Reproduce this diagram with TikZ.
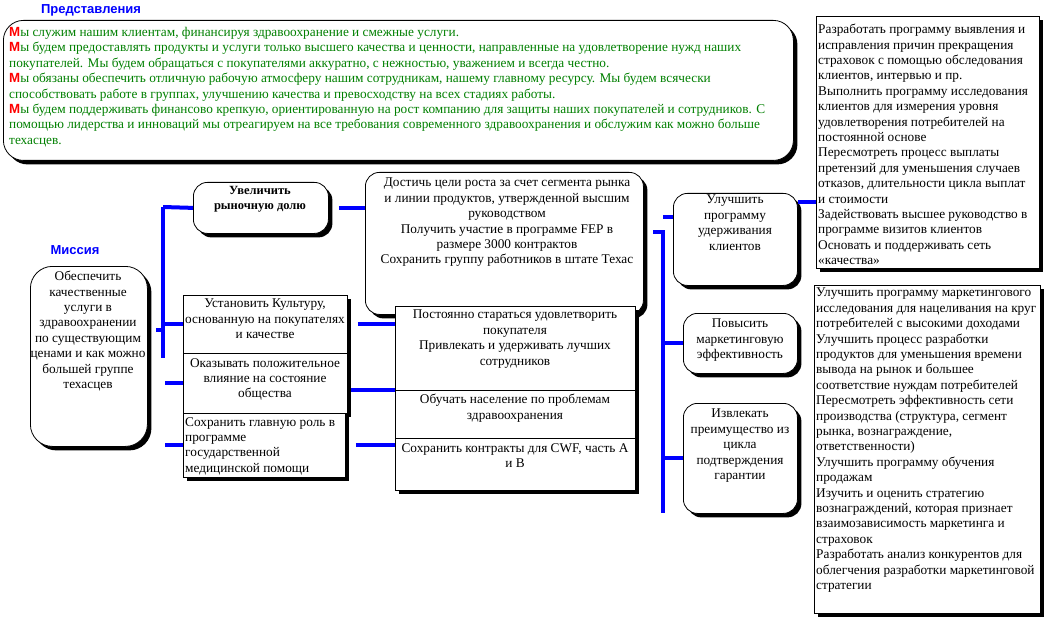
\documentclass[tikz,border=0pt]{standalone}
\usepackage{fontspec}
\setmainfont{Liberation Serif}
\setsansfont{Liberation Sans}
\usetikzlibrary{shadows}
\definecolor{mygreen}{RGB}{0,128,0}
\newcommand\capM{{\sffamily\bfseries\color{red}М}}

\begin{document}
\begin{tikzpicture}[x=1pt,y=-1pt,
  boxshadow/.style={drop shadow={shadow xshift=4pt,shadow yshift=-4pt,opacity=1,fill=black}},
  rbox/.style={draw,fill=white,line width=0.8pt,rounded corners=14pt,boxshadow,anchor=north west,inner sep=0pt},
  sbox/.style={draw,fill=white,line width=0.8pt,boxshadow,anchor=north west,inner sep=0pt},
  txt/.style={font=\fontsize{13.3}{15.4}\selectfont,align=center,inner sep=0pt,anchor=north},
  ltxt/.style={txt,align=left,anchor=north west},
  head/.style={font=\sffamily\bfseries\fontsize{13}{15}\selectfont,text=blue,inner sep=0pt},
  link/.style={blue,line width=4pt}]
\useasboundingbox (0,0) rectangle (1048,620);

% headings
\node[head] (hview) at (91,10) {Представления};
\node[head] (hmis) at (75,250) {Миссия};

% top box
\node[rbox,rounded corners=20pt,minimum width=790pt,minimum height=140pt] (topb) at (3,20) {};
\node[ltxt,text=mygreen] (topb-t) at (9,27) {\capM ы служим нашим клиентам, финансируя здравоохранение и смежные услуги.\\
\capM ы будем предоставлять продукты и услуги только высшего качества и ценности, направленные на удовлетворение нужд наших\\
покупателей. Мы будем обращаться с покупателями аккуратно, с нежностью, уважением и всегда честно.\\
\capM ы обязаны обеспечить отличную рабочую атмосферу нашим сотрудникам, нашему главному ресурсу. Мы будем всячески\\
способствовать работе в группах, улучшению качества и превосходству на всех стадиях работы.\\
\capM ы будем поддерживать финансово крепкую, ориентированную на рост компанию для защиты наших покупателей и сотрудников. С\\
помощью лидерства и инноваций мы отреагируем на все требования современного здравоохранения и обслужим как можно больше\\
техасцев.};

% right lists
\node[sbox,minimum width=223pt,minimum height=252pt] (rone) at (816,16) {};
\node[ltxt] (rone-t) at (818,24) {Разработать программу выявления и\\
исправления причин прекращения\\
страховок с помощью обследования\\
клиентов, интервью и пр.\\
Выполнить программу исследования\\
клиентов для измерения уровня\\
удовлетворения потребителей на\\
постоянной основе\\
Пересмотреть процесс выплаты\\
претензий для уменьшения случаев\\
отказов, длительности цикла выплат\\
и стоимости\\
Задействовать высшее руководство в\\
программе визитов клиентов\\
Основать и поддерживать сеть\\
«качества»};

\node[sbox,minimum width=226pt,minimum height=328pt] (rtwo) at (814,285) {};
\node[ltxt] (rtwo-t) at (816,288) {Улучшить программу маркетингового\\
исследования для нацеливания на круг\\
потребителей с высокими доходами\\
Улучшить процесс разработки\\
продуктов для уменьшения времени\\
вывода на рынок и большее\\
соответствие нуждам потребителей\\
Пересмотреть эффективность сети\\
производства (структура, сегмент\\
рынка, вознаграждение,\\
ответственности)\\
Улучшить программу обучения\\
продажам\\
Изучить и оценить стратегию\\
вознаграждений, которая признает\\
взаимозависимость маркетинга и\\
страховок\\
Разработать анализ конкурентов для\\
облегчения разработки маркетинговой\\
стратегии};

% mission
\node[rbox,rounded corners=22pt,minimum width=117pt,minimum height=180pt] (mis) at (30,266) {};
\node[txt] (mis-t) at (88,271) {Обеспечить\\качественные\\услуги в\\здравоохранении\\по существующим\\ценами и как можно\\большей группе\\техасцев};

% goals
\node[rbox,minimum width=135pt,minimum height=51pt] (grow) at (193,182) {};
\node[txt,font=\bfseries\fontsize{12.5}{15.4}\selectfont] (grow-t) at (260,186) {Увеличить\\рыночную долю};

\node[sbox,minimum width=164pt,minimum height=58pt] (cult) at (183,295) {};
\node[txt] (cult-t) at (265,299) {Установить Культуру,\\основанную на покупателях\\и качестве};
\node[sbox,minimum width=164pt,minimum height=60pt] (soc) at (183,353) {};
\node[txt] (soc-t) at (265,358) {Оказывать положительное\\влияние на состояние\\общества};
\node[sbox,minimum width=162pt,minimum height=64pt] (gov) at (183,413) {};
\node[ltxt] (gov-t) at (185,417) {Сохранить главную роль в\\программе\\государственной\\медицинской помощи};

% objectives
\node[rbox,minimum width=278pt,minimum height=142pt] (reach) at (365,172) {};
\node[txt] (reach-t) at (507,178) {Достичь цели роста за счет сегмента рынка\\и линии продуктов, утвержденной высшим\\руководством\\Получить участие в программе FEP в\\размере 3000 контрактов\\Сохранить группу работников в штате Техас};

\node[sbox,minimum width=240pt,minimum height=84pt] (cust) at (395,306) {};
\node[txt] (cust-t) at (515,310) {Постоянно стараться удовлетворить\\покупателя\\Привлекать и удерживать лучших\\сотрудников};
\node[sbox,minimum width=240pt,minimum height=48pt] (educ) at (395,390) {};
\node[txt] (educ-t) at (515,394) {Обучать население по проблемам\\здравоохранения};
\node[sbox,minimum width=240pt,minimum height=52pt] (cwf) at (395,438) {};
\node[txt] (cwf-t) at (515,443) {Сохранить контракты для CWF, часть А\\и В};

% strategies
\node[rbox,minimum width=124pt,minimum height=92pt] (keep) at (673,193) {};
\node[txt] (keep-t) at (735,195) {Улучшить\\программу\\удерживания\\клиентов};
\node[rbox,minimum width=114pt,minimum height=60pt] (mkt) at (683,313) {};
\node[txt] (mkt-t) at (740,319) {Повысить\\маркетинговую\\эффективность};
\node[rbox,minimum width=114pt,minimum height=110pt] (warr) at (683,403) {};
\node[txt] (warr-t) at (740,409) {Извлекать\\преимущество из\\цикла\\подтверждения\\гарантии};

% blue connectors
\coordinate (tLtop) at (163,207);
\coordinate (tLmid) at (163,330);
\coordinate (tLbot) at (163,358);
\coordinate (tR) at (663,232);
\coordinate (tRbot) at (663,513);
\coordinate (kIn) at (663,217);
\coordinate (rIn) at (816,202);

\draw[link] (tLtop) -- (tLbot);
\draw[link] (tLtop) -- (grow.west);
\draw[link] (tLmid) -- ([xshift=8pt]mis.east |- tLmid);
\draw[link] (tLtop |- cult.west) -- (cult.west);
\draw[link] ([xshift=2pt]tLbot |- soc.west) -- (soc.west);
\draw[link] ([xshift=2pt]tLbot |- gov.west) -- (gov.west);

\draw[link] ([xshift=10pt]grow.east) -- (reach.west |- grow.east);
\draw[link] ([xshift=10pt]cult.east) -- (cult.east -| cust.west);
\draw[link] ([xshift=3pt]soc.east |- educ.north west) -- (educ.north west);
\draw[link] ([xshift=10pt]gov.east) -- (gov.east -| cwf.west);

\draw[link] (kIn) -- (kIn -| keep.west);
\draw[link] ([xshift=-10pt]tR) -- (tR) -- (tRbot);
\draw[link] (tR |- mkt.west) -- (mkt.west);
\draw[link] (tR |- warr.west) -- (warr.west);
\draw[link] (rIn -| keep.east) -- (rIn);
\end{tikzpicture}
\end{document}
